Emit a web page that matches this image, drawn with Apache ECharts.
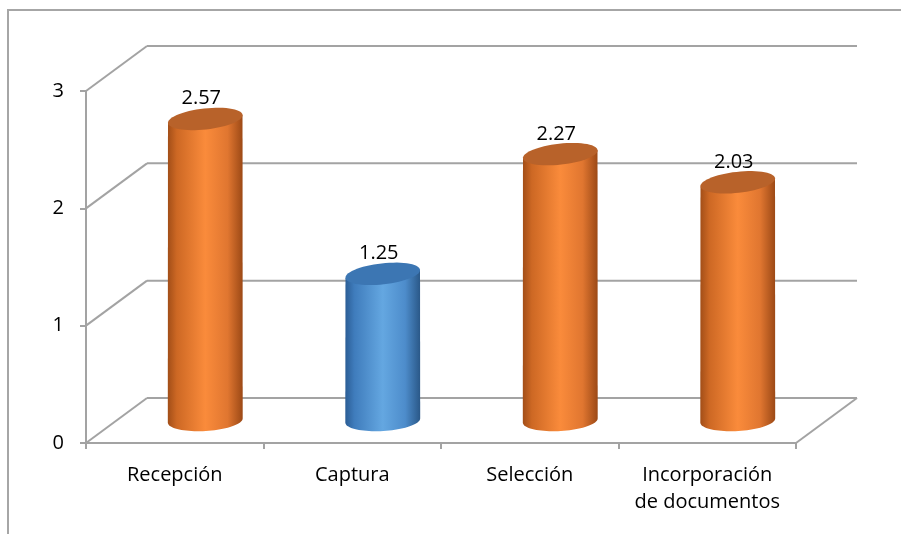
<!DOCTYPE html>
<html>
<head>
<meta charset="utf-8">
<script src="https://cdn.jsdelivr.net/npm/echarts@6/dist/echarts.min.js"></script>
<style>
  html, body { margin: 0; padding: 0; background: #ffffff; }
  #chart { width: 901px; height: 534px; }
</style>
</head>
<body>
<div id="chart"></div>
<script>
// Chart data
const categories = ['Recepción', 'Captura', 'Selección', 'Incorporación\nde documentos'];
const values = [2.57, 1.25, 2.27, 2.03];
const yTicks = [0, 1, 2, 3];
const highlighted = [1]; // index drawn in blue

// Appearance
const FONT = '"Open Sans", "Noto Sans", sans-serif';
const FONT_SIZE = 20;
const LINE_COLOR = '#a3a3a3';
const DEPTH = [61, -45];          // offset from the front plane to the back wall
const CYL_RX = 37.5;
const CYL_RY = 10.5;
const TILT_TOP = -0.11;
const TILT_BOTTOM = -0.06;

const palettes = {
  orange: {
    body: [
      [0, '#a24e18'], [0.12, '#cd6824'], [0.5, '#fa8b3b'],
      [0.8, '#e07630'], [1, '#9c4916']
    ],
    top: '#b8622a'
  },
  blue: {
    body: [
      [0, '#2b5d95'], [0.12, '#3f7cbc'], [0.5, '#64a7e1'],
      [0.8, '#4d8ccb'], [1, '#2a5888']
    ],
    top: '#3c76b3'
  }
};

function ellipsePoint(cx, cy, t, a) {
  const ca = Math.cos(a), sa = Math.sin(a);
  const px = CYL_RX * Math.cos(t), py = CYL_RY * Math.sin(t);
  return [cx + px * ca - py * sa, cy + px * sa + py * ca];
}

function ellipsePoints(cx, cy, a, from, to, n) {
  const pts = [];
  for (let k = 0; k <= n; k++) {
    pts.push(ellipsePoint(cx, cy, from + (to - from) * k / n, a));
  }
  return pts;
}

// Back wall, side wall and floor outlines
function renderWalls(params, api) {
  const cs = params.coordSys;
  const v = api.value(1);
  const y = api.coord([0, v])[1];
  const x0 = cs.x, x1 = cs.x + cs.width;
  const style = { stroke: LINE_COLOR, lineWidth: 2 };
  const children = [
    { type: 'line', shape: { x1: x0, y1: y, x2: x0 + DEPTH[0], y2: y + DEPTH[1] }, style },
    { type: 'line', shape: { x1: x0 + DEPTH[0], y1: y + DEPTH[1], x2: x1 + DEPTH[0], y2: y + DEPTH[1] }, style }
  ];
  if (v === yTicks[0]) {
    children.push({ type: 'line', shape: { x1: x1, y1: y, x2: x1 + DEPTH[0], y2: y + DEPTH[1] }, style });
  }
  return { type: 'group', children };
}

// Cylinder for each category, placed half way into the depth
function renderCylinder(params, api) {
  const i = api.value(0);
  const v = api.value(1);
  const top = api.coord([i, v]);
  const base = api.coord([i, 0]);
  const cx = top[0] + DEPTH[0] / 2;
  const cyTop = top[1] + DEPTH[1] / 2;
  const cyBase = base[1] + DEPTH[1] / 2;
  const pal = highlighted.indexOf(i) >= 0 ? palettes.blue : palettes.orange;

  // left edge of the top, down along the front half of the base, up to the right edge of the top
  const bodyPts = [ellipsePoint(cx, cyTop, Math.PI, TILT_TOP)]
    .concat(ellipsePoints(cx, cyBase, TILT_BOTTOM, Math.PI, 0, 40))
    .concat([ellipsePoint(cx, cyTop, 0, TILT_TOP)]);

  const topPts = ellipsePoints(cx, cyTop, TILT_TOP, 0, 2 * Math.PI, 60);
  const topY = Math.min.apply(null, topPts.map(function (p) { return p[1]; }));

  return {
    type: 'group',
    children: [
      {
        type: 'polygon',
        shape: { points: bodyPts },
        style: {
          fill: new echarts.graphic.LinearGradient(0, 0, 1, 0,
            pal.body.map(function (s) { return { offset: s[0], color: s[1] }; }))
        }
      },
      {
        type: 'polygon',
        shape: { points: topPts },
        style: { fill: pal.top }
      },
      {
        type: 'text',
        style: {
          text: values[i].toFixed(2),
          x: cx - 4,
          y: topY - 9,
          align: 'center',
          verticalAlign: 'middle',
          fill: '#000000',
          fontSize: FONT_SIZE,
          fontFamily: FONT
        }
      }
    ]
  };
}

const chart = echarts.init(document.getElementById('chart'), null, { renderer: 'canvas' });

chart.setOption({
  animation: false,
  backgroundColor: '#ffffff',
  graphic: [
    {
      type: 'rect',
      shape: { x: 8, y: 10, width: 1000, height: 600 },
      style: { fill: 'none', stroke: '#a6a6a6', lineWidth: 2 },
      z: -10
    }
  ],
  grid: { left: 86, top: 91, width: 710, height: 352, containLabel: false },
  xAxis: {
    type: 'category',
    data: categories,
    boundaryGap: true,
    axisLine: { show: true, lineStyle: { color: LINE_COLOR, width: 2 } },
    axisTick: { show: true, length: 6, lineStyle: { color: LINE_COLOR, width: 2 } },
    axisLabel: {
      color: '#000000',
      fontSize: FONT_SIZE,
      fontFamily: FONT,
      margin: 19,
      lineHeight: 27,
      interval: 0
    },
    splitLine: { show: false }
  },
  yAxis: {
    type: 'value',
    min: 0,
    max: 3,
    interval: 1,
    axisLine: { show: true, lineStyle: { color: LINE_COLOR, width: 2 } },
    axisTick: { show: true, length: 6, lineStyle: { color: LINE_COLOR, width: 2 } },
    axisLabel: {
      color: '#000000',
      fontSize: FONT_SIZE,
      fontFamily: FONT,
      margin: 22
    },
    splitLine: { show: false }
  },
  series: [
    {
      type: 'custom',
      name: 'walls',
      z: 1,
      silent: true,
      renderItem: renderWalls,
      encode: { x: 0, y: 1 },
      data: yTicks.map(function (v) { return [0, v]; })
    },
    {
      type: 'custom',
      name: 'valores',
      z: 5,
      renderItem: renderCylinder,
      encode: { x: 0, y: 1 },
      data: values.map(function (v, i) { return [i, v]; })
    }
  ]
});
</script>
</body>
</html>
